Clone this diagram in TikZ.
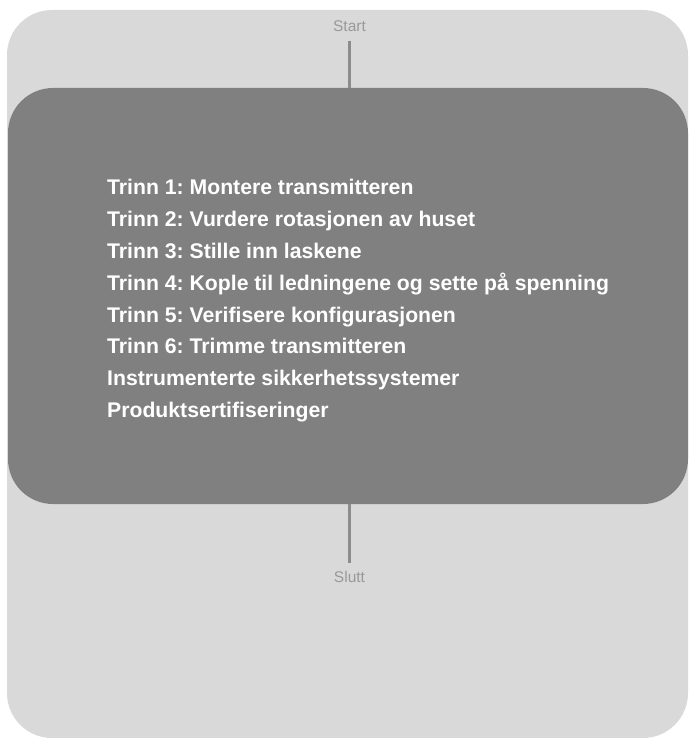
\documentclass[tikz,border=0pt]{standalone}
\usepackage{fontspec}
\setmainfont{Liberation Sans}
\definecolor{bglight}{HTML}{D9D9D9}
\definecolor{boxdark}{HTML}{808080}
\definecolor{linegray}{HTML}{8C8C8C}
\definecolor{labelgray}{HTML}{999999}
\frenchspacing
\begin{document}
\begin{tikzpicture}[x=1pt,y=-1pt,
  steptext/.style={anchor=base west,text=white,font=\fontsize{21.2}{24}\selectfont\bfseries,inner sep=0pt},
  endlabel/.style={anchor=base,text=labelgray,font=\fontsize{15.5}{17}\selectfont,inner sep=0pt},
  conn/.style={draw=linegray,line width=3pt}]
\useasboundingbox (0,0) rectangle (688,738);
\fill[bglight,rounded corners=45pt] (7,10) rectangle (688,738);
\fill[boxdark,rounded corners=45pt] (8,88) rectangle (688,504);
\node[endlabel] (start) at (349.5,31.7) {Start};
\node[endlabel] (slutt) at (349.5,582) {Slutt};
\coordinate (boxtop) at (349,88);
\coordinate (boxbot) at (349,504);
\coordinate (ltop) at (349,41);
\coordinate (lbot) at (349,563);
\draw[conn] (ltop) -- (boxtop);
\draw[conn] (boxbot) -- (lbot);
\node[steptext] (s1) at (107,194) {Trinn 1: Montere transmitteren};
\node[steptext] (s2) at (107,226) {Trinn 2: Vurdere rotasjonen av huset};
\node[steptext] (s3) at (107,258) {Trinn 3: Stille inn laskene};
\node[steptext] (s4) at (107,290) {Trinn 4: Kople til ledningene og sette på spenning};
\node[steptext] (s5) at (107,322) {Trinn 5: Verifisere konfigurasjonen};
\node[steptext] (s6) at (107,353.5) {Trinn 6: Trimme transmitteren};
\node[steptext] (s7) at (107,385) {Instrumenterte sikkerhetssystemer};
\node[steptext] (s8) at (107,417) {Produktsertifiseringer};
\end{tikzpicture}
\end{document}
